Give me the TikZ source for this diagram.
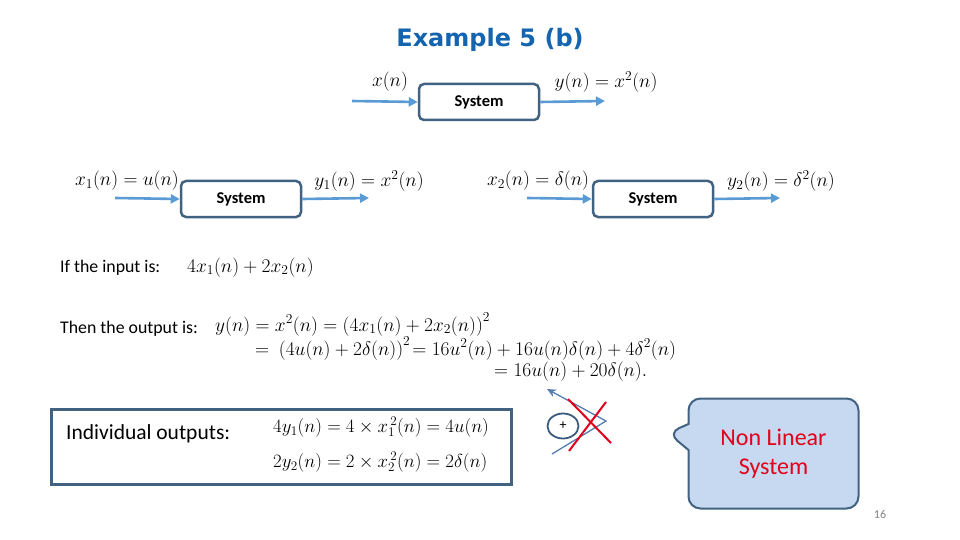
\RequirePackage{fix-cm}
\documentclass[tikz,border=0pt]{standalone}
\usepackage{fontspec}
\setmainfont{Carlito}
\newfontfamily\titlefont{DejaVu Sans}
\usetikzlibrary{arrows.meta,shapes.geometric,shapes.callouts}
\definecolor{boxblue}{RGB}{66,98,130}
\definecolor{flowblue}{RGB}{91,155,213}
\definecolor{titleblue}{RGB}{20,100,175}
\definecolor{bubblefill}{RGB}{198,217,240}
\definecolor{nlred}{RGB}{226,0,26}
\definecolor{sumblue}{RGB}{60,90,125}
\definecolor{thinblue}{RGB}{85,125,175}
\tikzset{
  sysbox/.style={draw=boxblue, line width=2.5pt, rounded corners=5pt,
    minimum width=120pt, minimum height=36pt, font=\bfseries\fontsize{16.5}{19}\selectfont},
  flow/.style={draw=flowblue, line width=2.6pt, -{Triangle[length=9pt,width=9pt]}},
  lbl/.style={font=\fontsize{19.4}{23}\selectfont, inner sep=0pt},
  txt/.style={font=\fontsize{17.8}{21}\selectfont, inner sep=0pt},
  eqn/.style={font=\fontsize{19.4}{23}\selectfont, inner sep=0pt, anchor=base west},
  indeq/.style={font=\fontsize{18.8}{22}\selectfont, inner sep=0pt, anchor=west},
}
\begin{document}
\begin{tikzpicture}[x=1pt,y=-1pt]
        \useasboundingbox (0,0) rectangle (960,540);
        \node[font=\titlefont\bfseries\fontsize{24}{29}\selectfont, text=titleblue]
            (title) at (490,40) {Example 5 (b)};
        % general system
        \node[sysbox] (sys0) at (479,102) {System};
        \coordinate (in0) at (352,101);
        \coordinate (out0) at (605,101);
        \draw[flow] (in0) -- (sys0.west);
        \draw[flow] (sys0.east) -- (out0);
        \node[lbl] (x0) at (390,82) {$x(n)$};
        \node[lbl] (y0) at (606,82) {$y(n)=x^2(n)$};
        % first input
        \node[sysbox] (sys1) at (241,199) {System};
        \coordinate (in1) at (115,198);
        \coordinate (out1) at (369,198);
        \draw[flow] (in1) -- (sys1.west);
        \draw[flow] (sys1.east) -- (out1);
        \node[lbl] (x1) at (127,181) {$x_1(n)=u(n)$};
        \node[lbl] (y1) at (369,181) {$y_1(n)=x^2(n)$};
        % second input
        \node[sysbox] (sys2) at (653,199) {System};
        \coordinate (in2) at (527,198);
        \coordinate (out2) at (780,198);
        \draw[flow] (in2) -- (sys2.west);
        \draw[flow] (sys2.east) -- (out2);
        \node[lbl] (x2) at (538,181) {$x_2(n)=\delta(n)$};
        \node[lbl] (y2) at (781,181) {$y_2(n)=\delta^2(n)$};
        % input and output
        \node[txt, anchor=base west] (iftxt) at (60,272) {If the input is:};
        \node[eqn] (ineq) at (187,272) {$4x_1(n)+2x_2(n)$};
        \node[txt, anchor=base west] (thentxt) at (60,333) {Then the output is:};
        \node[eqn] (eq1) at (215,331) {$y(n)=x^2(n)=\bigl(4x_1(n)+2x_2(n)\bigr)^2$};
        \node[eqn] (eq2) at (255,355)
            {$=\ \bigl(4u(n)+2\delta(n)\bigr)^2\!=16u^2(n)+16u(n)\delta(n)+4\delta^2(n)$};
        \node[eqn] (eq3) at (494,376) {$=16u(n)+20\delta(n).$};
        % individual outputs
        \node[draw=boxblue, line width=2.5pt, minimum width=460pt, minimum height=75pt]
            (indbox) at (281.5,447) {};
        \node[font=\fontsize{21.5}{25}\selectfont, inner sep=0pt, anchor=west]
            (indtxt) at (66,434) {Individual outputs:};
        \node[indeq] (ind1) at (273,427) {$4y_1(n)=4\times x_1^{\,2}(n)=4u(n)$};
        \node[indeq] (ind2) at (273,462) {$2y_2(n)=2\times x_2^{\,2}(n)=2\delta(n)$};
        % crossed-out sum
        \node[ellipse, draw=sumblue, line width=1.8pt, minimum width=31pt, minimum height=25pt,
            inner sep=0pt, font=\fontsize{14}{16}\selectfont] (sum) at (563,426) {+};
        \coordinate (s1) at (552,454);
        \coordinate (s2) at (606,421);
        \coordinate (s3) at (547,389);
        \draw[thinblue, line width=1.3pt, -{Stealth[length=9pt,width=8pt]}] (s1) -- (s2) -- (s3);
        \coordinate (r1) at (568,399);
        \coordinate (r2) at (611,443);
        \coordinate (r3) at (606,402);
        \coordinate (r4) at (569,451);
        \draw[nlred, line width=2pt] (r1) -- (r2);
        \draw[nlred, line width=2pt] (r3) -- (r4);
        % verdict
        \node[rectangle callout, draw=boxblue, fill=bubblefill, line width=2pt,
            rounded corners=12pt, minimum width=170pt, minimum height=110pt,
            callout absolute pointer={(668,433)}, callout pointer width=26pt,
            text=nlred, align=center, font=\fontsize{24}{29}\selectfont]
            (verdict) at (773.5,453.5) {Non Linear\\System};
        \node[font=\fontsize{12}{14}\selectfont, text=gray] (page) at (880,514) {16};
\end{tikzpicture}
\end{document}
